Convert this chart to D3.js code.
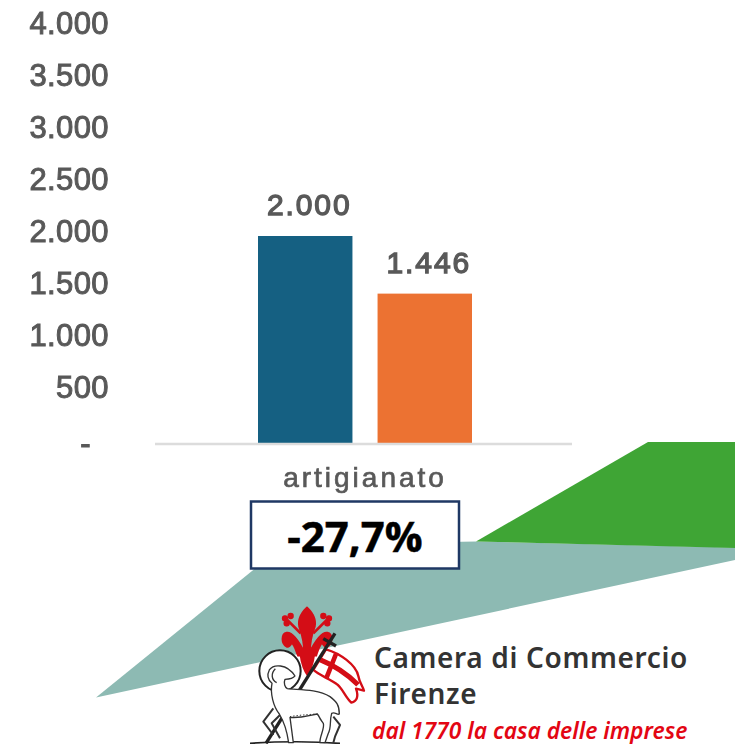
<!DOCTYPE html>
<html><head><meta charset="utf-8">
<script src="https://cdn.jsdelivr.net/npm/d3@7"></script>
<style>html,body{margin:0;padding:0;background:#fff;overflow:hidden}svg{display:block}</style>
</head><body><svg id="c" width="735" height="744"></svg>
<script>
const categories = ["artigianato"];
const seriesNames = ["anno precedente", "anno corrente"];
const seriesValues = [2000, 1446];
const seriesColors = ["#156082", "#EC7232"];
const yTicks = [0, 500, 1000, 1500, 2000, 2500, 3000, 3500, 4000];
const changeLabel = "-27,7%";
const logoLines = ["Camera di Commercio", "Firenze"];
const logoTagline = "dal 1770 la casa delle imprese";
const greenShape = [[648,442],[735,442],[735,548],[476,541.5]];
const tealShape = [[96,697.5],[284,545],[476,541.5],[735,547.5],[735,560]];

const svg = d3.select("#c");
const it = d3.formatLocale({decimal:",",thousands:".",grouping:[3],currency:["€",""]});
const fmt = it.format(",d");
const tickFmt = v => v === 0 ? "-" : fmt(v);
const font = "'Liberation Sans',Arial,sans-serif";
const grey = "#595959";

const y = d3.scaleLinear().domain([0,4000]).range([444,28]);
const x0 = d3.scaleBand().domain(categories).range([157,573]);
const x1 = d3.scaleBand().domain(seriesNames).range([101,315]).paddingInner(0.21);

const line = d3.line();
svg.append("path").attr("d", line(tealShape)+"Z").attr("fill","#8DBAB3");
svg.append("path").attr("d", line(greenShape)+"Z").attr("fill","#3FA535");

const defs = svg.append("defs");
defs.append("filter").attr("id","soft").append("feGaussianBlur").attr("stdDeviation",0.5);

// bars
const plot = svg.append("g");
plot.selectAll("rect").data(seriesValues).join("rect")
  .attr("x",(d,i)=>x0(categories[0])+x1(seriesNames[i]))
  .attr("width",x1.bandwidth())
  .attr("y",d=>y(d)).attr("height",d=>y(0)-y(d))
  .attr("fill",(d,i)=>seriesColors[i]);

// axes
const ga = svg.append("g").attr("transform","translate(109,-4)")
  .call(d3.axisLeft(y).tickValues(yTicks).tickFormat(tickFmt).tickSize(0).tickPadding(0));
ga.select(".domain").remove();
ga.selectAll("text").attr("font-family",font).attr("font-size",31).attr("letter-spacing",0.4)
  .attr("fill",grey).attr("stroke",grey).attr("stroke-width",1).attr("filter","url(#soft)")
  .attr("dx",d=>d===0?-18:null).attr("y",d=>d===0?4:null);

const gb = svg.append("g").attr("transform","translate(0,444)")
  .call(d3.axisBottom(x0).tickSize(0).tickPadding(23));
gb.select(".domain").remove();
gb.selectAll("text").attr("font-family",font).attr("font-size",28).attr("letter-spacing",3)
  .attr("fill",grey).attr("stroke",grey).attr("stroke-width",0.7).attr("filter","url(#soft)");
svg.append("line").attr("x1",155).attr("x2",572).attr("y1",444).attr("y2",444)
  .attr("stroke","#dcdcdc").attr("stroke-width",2.5);

// value labels
plot.selectAll("text").data(seriesValues).join("text")
  .attr("x",(d,i)=>x0(categories[0])+x1(seriesNames[i])+x1.bandwidth()/2+4)
  .attr("y",d=>y(d)-21)
  .attr("text-anchor","middle").attr("font-family",font).attr("font-size",30).attr("letter-spacing",1.9)
  .attr("fill",grey).attr("stroke",grey).attr("stroke-width",1.3).attr("filter","url(#soft)")
  .text(d=>fmt(d));

// change box
svg.append("rect").attr("x",251).attr("y",501.5).attr("width",208).attr("height",67)
  .attr("fill","#fff").attr("stroke","#1F3864").attr("stroke-width",2.5);
svg.append("text").attr("x",355).attr("y",552).attr("text-anchor","middle")
  .attr("font-family","'Liberation Sans Narrow','Open Sans',sans-serif").attr("font-weight",700)
  .attr("font-size",42).attr("fill","#000").attr("stroke","#000").attr("stroke-width",0.5).text(changeLabel);

// logo text
svg.selectAll("text.logo").data(logoLines).join("text").attr("class","logo")
  .attr("x",374).attr("y",(d,i)=>668+i*36)
  .attr("font-family","'Noto Sans',sans-serif").attr("font-weight",600).attr("font-size",28)
  .attr("letter-spacing",0.65)
  .attr("fill","#333").text(d=>d);
svg.append("text").attr("x",372).attr("y",738.5).attr("font-family","'Noto Sans',sans-serif")
  .attr("font-style","italic").attr("font-weight",600).attr("font-size",22.8)
  .attr("fill","#E30613").text(logoTagline);

// logo emblem (drawn in zoomed units)
const e = svg.append("g").attr("filter","url(#soft)").append("g").attr("transform","translate(230,590) scale(0.3333)");
const red = "#D40A14", ink = "#222";
const lily = e.append("g").attr("fill",red).attr("stroke",red).attr("stroke-width",5).attr("stroke-linejoin","round");
lily.append("path").attr("d","M231 52C212 70 200 92 210 118C218 140 222 155 222 185L240 185C240 155 244 140 252 118C262 92 250 70 231 52Z");
[0,1].forEach(m=>{
  const g = lily.append("g").attr("transform", m ? "translate(462,0) scale(-1,1)" : null);
  g.append("path").attr("d","M225 190C210 160 190 125 170 128C153 132 153 160 170 170C175 172 183 168 185 158C193 165 197 180 203 195Z");
  g.append("path").attr("d","M212 130L172 90").attr("stroke-width",8).attr("fill","none");
  g.append("circle").attr("cx",165).attr("cy",85).attr("r",7);
  g.append("circle").attr("cx",182).attr("cy",78).attr("r",7);
  g.append("circle").attr("cx",170).attr("cy",100).attr("r",7);
});
lily.append("rect").attr("x",204).attr("y",182).attr("width",55).attr("height",15);
lily.append("path").attr("d","M212 198L252 198C250 220 240 245 232 255C224 245 214 220 212 198Z");

// flag
e.append("path").attr("d","M288 178C330 190 378 224 385 258C388 278 400 292 402 302L378 296C386 318 382 334 364 338C346 322 336 292 320 282C298 266 268 256 250 240Z")
  .attr("fill","#fff").attr("stroke",red).attr("stroke-width",7).attr("stroke-linejoin","round");
e.append("path").attr("d","M268 208C310 225 350 250 384 284").attr("fill","none").attr("stroke",red).attr("stroke-width",15);
e.append("path").attr("d","M318 192L290 262").attr("fill","none").attr("stroke",red).attr("stroke-width",14);

// halo, staff
e.append("circle").attr("cx",150).attr("cy",243).attr("r",62).attr("fill","#fff").attr("stroke",ink).attr("stroke-width",6);
e.append("path").attr("d","M315 130L108 460").attr("stroke",ink).attr("stroke-width",10);
e.append("path").attr("d","M280 146L318 168").attr("stroke",ink).attr("stroke-width",10);
e.append("path").attr("d","M60 460C150 454 250 454 330 460").attr("stroke",ink).attr("stroke-width",5).attr("fill","none");

// lamb
const lamb = e.append("g").attr("fill","#fff").attr("stroke","#333").attr("stroke-width",4).attr("stroke-linejoin","round");
lamb.append("path").attr("d","M130 355L100 395L130 435M150 375L125 400L150 445M310 380L330 405L315 440L310 458M270 385L296 410L280 440").attr("fill","none").attr("stroke-width",6);
lamb.append("path").attr("d","M118 240C130 222 170 220 195 258C188 268 172 268 165 268C160 280 165 292 172 296C200 300 260 295 300 320C320 335 328 345 328 372C322 376 315 365 305 370C298 395 305 410 295 430L285 458L270 458C268 440 285 415 280 400C272 390 268 380 262 372C240 375 215 385 180 382L190 458L176 458C172 430 165 400 148 372C130 350 120 310 126 280C112 268 112 252 118 240Z");
lamb.append("path").attr("d","M136 236C122 250 124 270 140 278").attr("fill","none");
lamb.append("path").attr("d","M180 380C200 376 230 374 262 372").attr("fill","none").attr("stroke-dasharray","4 6").attr("stroke-width",3);
</script></body></html>
